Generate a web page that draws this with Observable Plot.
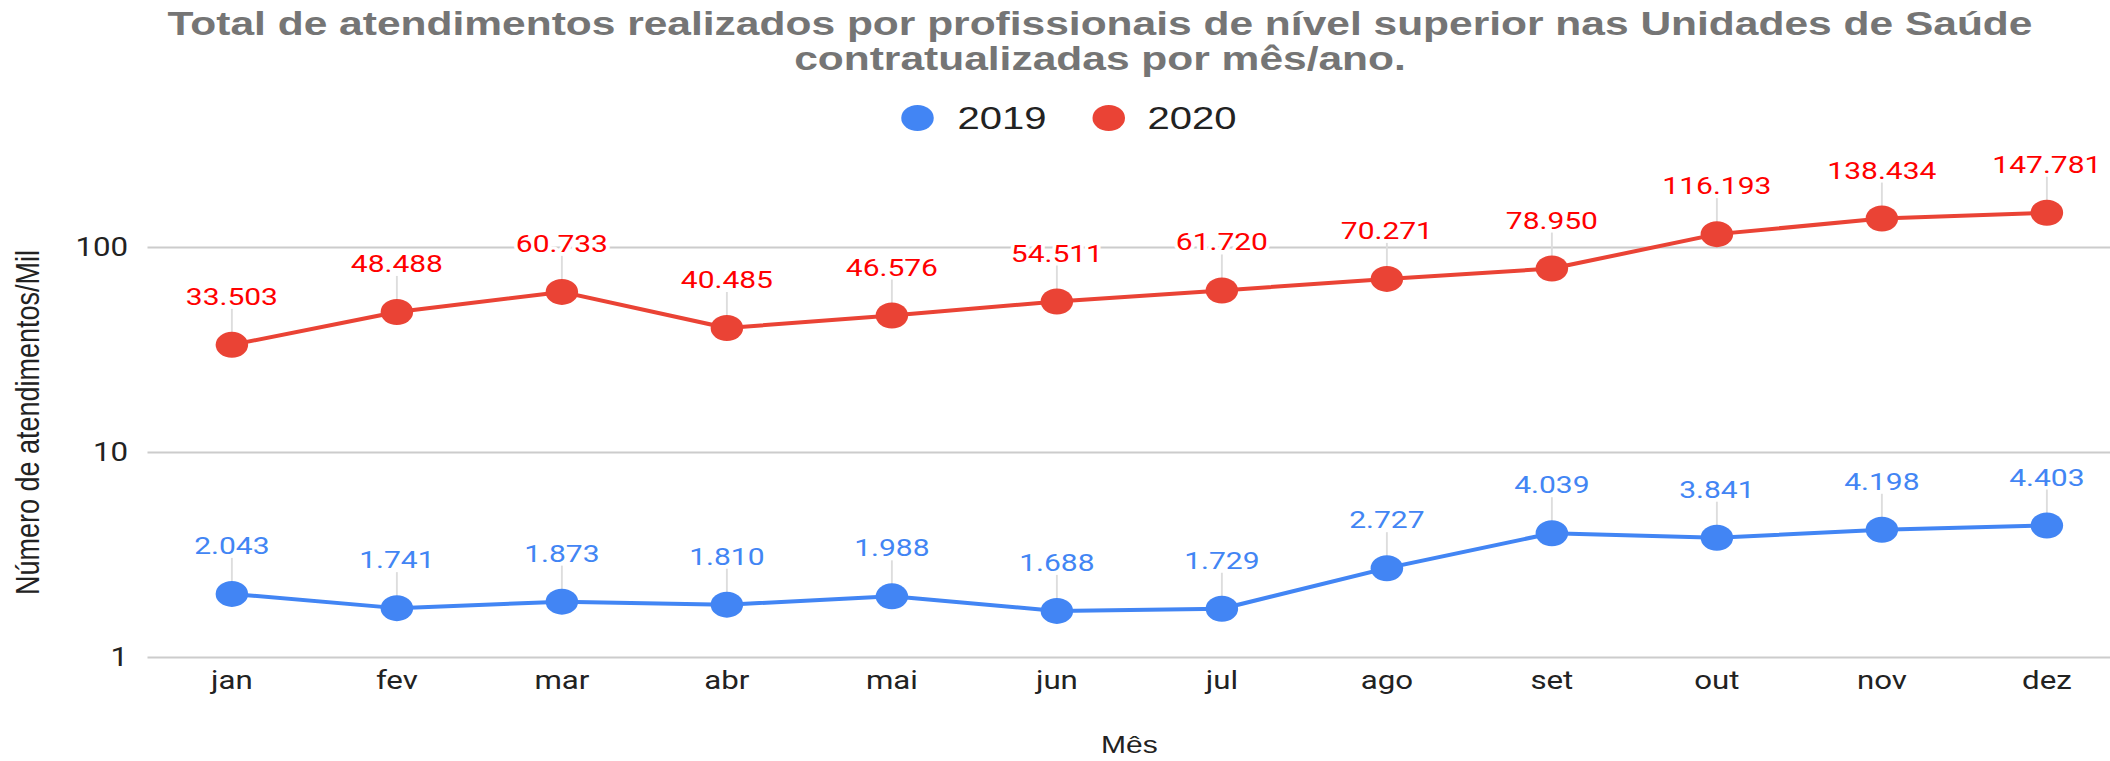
<!DOCTYPE html>
<html>
<head>
<meta charset="utf-8">
<script src="https://cdn.jsdelivr.net/npm/d3@7"></script>
<script src="https://cdn.jsdelivr.net/npm/@observablehq/plot@0.6"></script>
<style>
  html, body { margin: 0; padding: 0; background: #fff; }
  body { width: 2110px; height: 761px; overflow: hidden; }
  #wrap { width: 1688px; height: 761px; transform: scaleX(1.25); transform-origin: 0 0; }
  #title { height: 96px; box-sizing: border-box; padding-top: 6px; padding-left: 72px;
           font: bold 34px/35px "Liberation Sans", Arial, sans-serif; color: #757575; text-align: center; }
  #legend { position: relative; height: 44px; font: 32px "Liberation Sans", Arial, sans-serif; color: #222; }
  #legend .sw { position: absolute; top: 9px; width: 26px; height: 26px; border-radius: 50%; }
  #legend .lb { position: absolute; top: 0; line-height: 44px; }
</style>
</head>
<body>
<div id="wrap">
  <div id="title"></div>
  <div id="legend"></div>
  <div id="chart"></div>
</div>
<script>
const titleLines = ["Total de atendimentos realizados por profissionais de nível superior nas Unidades de Saúde", "contratualizadas por mês/ano."];
const months = ["jan", "fev", "mar", "abr", "mai", "jun", "jul", "ago", "set", "out", "nov", "dez"];
const series = ["2019", "2020"];
const values2019 = [2.043, 1.741, 1.873, 1.810, 1.988, 1.688, 1.729, 2.727, 4.039, 3.841, 4.198, 4.403];
const values2020 = [33.503, 48.488, 60.733, 40.485, 46.576, 54.511, 61.720, 70.271, 78.950, 116.193, 138.434, 147.781];
const yTicks = [1, 10, 100];
const yLabel = "Número de atendimentos/Mil";
const xLabel = "Mês";
const lineColors = ["#4285f4", "#ea4335"];
const labelColors = ["#4285f4", "#ff0000"];

document.getElementById("title").innerHTML = titleLines.join("<br>");

const legend = document.getElementById("legend");
const legendPos = [[721, 766], [874, 918]];
series.forEach((s, i) => {
  const sw = document.createElement("span");
  sw.className = "sw"; sw.style.left = legendPos[i][0] + "px"; sw.style.background = lineColors[i];
  const lb = document.createElement("span");
  lb.className = "lb"; lb.style.left = legendPos[i][1] + "px"; lb.textContent = s;
  legend.appendChild(sw); legend.appendChild(lb);
});

const valuesBySeries = {"2019": values2019, "2020": values2020};
const data = series.flatMap(s => months.map((m, i) => ({month: m, year: s, value: valuesBySeries[s][i]})));

const leader = {draw(context) { context.moveTo(0, 0); context.lineTo(0, -36); }};

const labelMarks = series.map((s, i) =>
  Plot.text(data.filter(d => d.year === s), {
    x: "month", y: "value", text: d => d.value.toFixed(3),
    lineAnchor: "bottom", dy: -40, fontSize: 24, fontFamily: "Roboto, sans-serif",
    fill: labelColors[i], stroke: "white", strokeWidth: 6, paintOrder: "stroke"
  })
);

const chart = Plot.plot({
  width: 1688,
  height: 621,
  marginLeft: 118,
  marginRight: 0,
  marginTop: 107,
  marginBottom: 104,
  style: {fontSize: "25px", fontFamily: "Roboto, sans-serif", color: "#222", background: "white"},
  x: {type: "point", domain: months, padding: 0, insetLeft: 66, insetRight: 50, tickSize: 0, tickPadding: 14, label: null},
  y: {type: "log", domain: [1, 100], ticks: yTicks, tickFormat: d => String(d), tickSize: 0, tickPadding: 16, label: null},
  color: {domain: series, range: lineColors},
  marks: [
    Plot.ruleY(yTicks, {stroke: "#cccccc", strokeWidth: 2}),
    Plot.dot(data, {x: "month", y: "value", symbol: leader, fill: "none", stroke: "#dddddd", strokeWidth: 1.5}),
    ...labelMarks,
    Plot.line(data, {x: "month", y: "value", z: "year", stroke: "year", strokeWidth: 4}),
    Plot.dot(data, {x: "month", y: "value", fill: "year", r: 13}),
    Plot.text([yLabel], {text: d => d, frameAnchor: "left", textAnchor: "middle", rotate: -90, dx: -96, dy: -30, fontSize: 27, fontFamily: "Liberation Sans, Arial, sans-serif", fill: "#222"}),
    Plot.text([xLabel], {text: d => d, frameAnchor: "bottom", textAnchor: "middle", lineAnchor: "bottom", dy: 95, fontSize: 24, fontFamily: "Liberation Sans, Arial, sans-serif", fill: "#222"})
  ]
});
document.getElementById("chart").appendChild(chart);
</script>
</body>
</html>
